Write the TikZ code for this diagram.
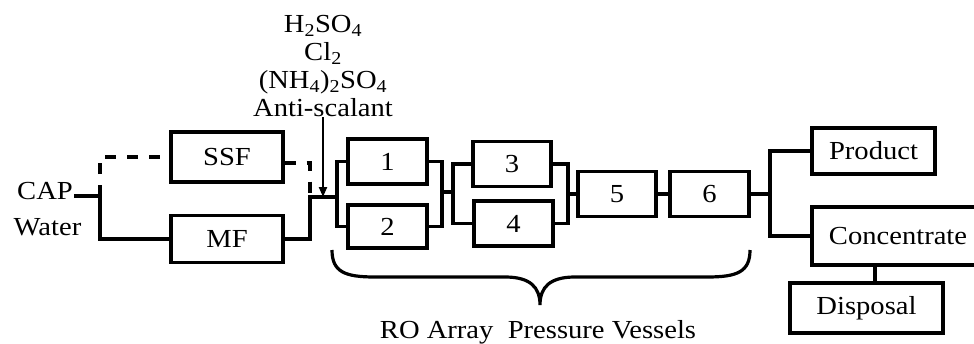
\documentclass[tikz,border=0pt]{standalone}
\usepackage{fontspec}
\setmainfont{Liberation Serif}[FakeStretch=1.1]
\usetikzlibrary{arrows.meta}

\begin{document}
\begin{tikzpicture}[x=1pt,y=-1pt,>={Triangle[length=10pt,width=8pt]},
  every node/.style={font=\fontsize{26}{28}\selectfont},
  box/.style={draw,line width=3.2pt,inner sep=0pt},
  pipe/.style={line width=3.2pt},
  dashline/.style={pipe,dash pattern=on 11pt off 11pt}]
  \clip (0,0) rectangle (974,343);

  % feed and pretreatment
  \node[anchor=base,inner sep=1pt] (cap) at (45,199) {CAP};
  \node[anchor=base,inner sep=1pt] (water) at (47.5,235) {Water};
  \node[box,minimum width=112pt,minimum height=50pt] (ssf) at (227,157) {SSF};
  \node[box,minimum width=112pt,minimum height=47pt] (mf) at (227,239) {MF};
  \node[anchor=south,inner sep=0pt,align=center] (chem) at (323,117)
    {H\textsubscript{2}SO\textsubscript{4}\\Cl\textsubscript{2}\\(NH\textsubscript{4})\textsubscript{2}SO\textsubscript{4}\\Anti-scalant};

  % RO pressure vessels
  \node[box,minimum width=79pt,minimum height=45pt] (v1) at (387.5,161.5) {1};
  \node[box,minimum width=79pt,minimum height=43pt] (v2) at (387.5,226.5) {2};
  \node[box,minimum width=78pt,minimum height=45pt] (v3) at (512,164) {3};
  \node[box,minimum width=79pt,minimum height=45pt] (v4) at (513.5,223.5) {4};
  \node[box,minimum width=78pt,minimum height=45pt] (v5) at (617,194) {5};
  \node[box,minimum width=79pt,minimum height=45pt] (v6) at (709.5,194) {6};

  % outlets
  \node[box,minimum width=123pt,minimum height=46pt] (prod) at (873.5,151) {Product};
  \node[box,minimum width=172pt,minimum height=58pt] (conc) at (898,236) {Concentrate};
  \node[box,minimum width=153pt,minimum height=50pt] (disp) at (866.5,308) {Disposal};
  \node[anchor=base,inner sep=0pt] (ro) at (538,338) {RO Array\ \ Pressure Vessels};

  \coordinate (split) at (100,196);
  \coordinate (join) at (310,197);
  \coordinate (inj) at (323,197);
  \coordinate (feed) at (337,197);
  \coordinate (m1) at (442,192);
  \coordinate (m2) at (453,192);
  \coordinate (m3) at (568,194);
  \coordinate (m4) at (770,194);

  % piping
  \draw[pipe] ([yshift=3pt]cap.base east) -- (split);
  \draw[dashline] (split) |- (ssf.west);
  \draw[pipe] (split) |- (mf.west);
  \draw[dashline] ([yshift=-6pt]ssf.east) -| (join);
  \draw[pipe] (mf.east) -| (join) -- (feed);
  \draw[line width=2.2pt,->] (chem.south) -- (inj);
  \draw[pipe] (v1.west) -| (feed) |- (v2.west);
  \draw[pipe] (v1.east) -| (m1) |- (v2.east);
  \draw[pipe] (m1) -- (m2);
  \draw[pipe] (v3.west) -| (m2) |- (v4.west);
  \draw[pipe] (v3.east) -| (m3) |- (v4.east);
  \draw[pipe] (m3) -- (v5.west);
  \draw[pipe] (v5.east) -- (v6.west);
  \draw[pipe] (v6.east) -- (m4);
  \draw[pipe] (prod.west) -| (m4) |- (conc.west);
  \draw[pipe] ([xshift=-23pt]conc.south) -- ([xshift=-23pt]conc.south |- disp.north);

  % brace under the array
  \draw[pipe] (332,250) .. controls (332,272) and (345,277) .. (375,277) -- (505,277)
    .. controls (530,277) and (540,287) .. (540,305)
    .. controls (540,287) and (550,277) .. (575,277) -- (707,277)
    .. controls (737,277) and (750,272) .. (750,250);
\end{tikzpicture}
\end{document}
